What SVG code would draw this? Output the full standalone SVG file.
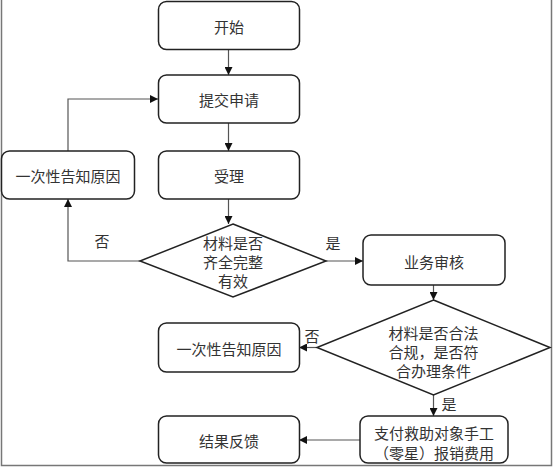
<svg xmlns="http://www.w3.org/2000/svg" width="553" height="467" viewBox="0 0 553 467">
<style>
.n{fill:#fff;stroke:#222;stroke-width:1.5}
.t{font-family:"Noto Sans CJK SC","Noto Sans",sans-serif;font-size:15px;fill:#333;text-anchor:middle;dominant-baseline:central}
.c{fill:none;stroke:#555;stroke-width:1.2}
</style>
<defs>
<marker id="a" viewBox="0 0 10 10" refX="10" refY="5" markerWidth="8" markerHeight="8" markerUnits="userSpaceOnUse" orient="auto">
<path d="M0,0L10,5L0,10z" fill="#111"/>
</marker>
</defs>
<rect x="0" y="0" width="553" height="467" fill="#fff"/>
<path d="M1.5,0V465.5H551.5V0" fill="none" stroke="#777" stroke-width="1.5"/>
<g id="connectors">
<path class="c" d="M228.5,49V75" marker-end="url(#a)"/>
<path class="c" d="M228.5,123V151" marker-end="url(#a)"/>
<path class="c" d="M228.5,199V224" marker-end="url(#a)"/>
<path class="c" d="M140,261H68V199" marker-end="url(#a)"/>
<path class="c" d="M68,151V99H158" marker-end="url(#a)"/>
<path class="c" d="M326,261H363" marker-end="url(#a)"/>
<path class="c" d="M433.5,285V300" marker-end="url(#a)"/>
<path class="c" d="M317,347.5H299" marker-end="url(#a)"/>
<path class="c" d="M433.5,395V416" marker-end="url(#a)"/>
<path class="c" d="M360,440H299" marker-end="url(#a)"/>
<text class="t" x="102" y="240">否</text>
<text class="t" x="333" y="242">是</text>
<text class="t" x="312" y="335">否</text>
<text class="t" x="449" y="403">是</text>
</g>
<g id="start"><rect class="n" x="158.5" y="1.5" width="141" height="48" rx="8"/><text class="t" x="229" y="26">开始</text></g>
<g id="submit"><rect class="n" x="158.5" y="75" width="141" height="48" rx="8"/><text class="t" x="229" y="99">提交申请</text></g>
<g id="accept"><rect class="n" x="158.5" y="151" width="141" height="48" rx="8"/><text class="t" x="229" y="175">受理</text></g>
<g id="notify1"><rect class="n" x="1.5" y="151" width="133" height="48" rx="8"/><text class="t" x="68" y="175">一次性告知原因</text></g>
<g id="check1"><polygon class="n" points="233,224 326,261 233,297 140,261"/>
<text class="t" x="233" y="242">材料是否</text><text class="t" x="233" y="261">齐全完整</text><text class="t" x="233" y="280">有效</text></g>
<g id="review"><rect class="n" x="363" y="235" width="142" height="50" rx="8"/><text class="t" x="434" y="261">业务审核</text></g>
<g id="check2"><polygon class="n" points="433.5,300 550,347.5 433.5,395 317,347.5"/>
<text class="t" x="433.5" y="332">材料是否合法</text><text class="t" x="433.5" y="351">合规，是否符</text><text class="t" x="433.5" y="370">合办理条件</text></g>
<g id="notify2"><rect class="n" x="158.5" y="323" width="141" height="49" rx="8"/><text class="t" x="229" y="348">一次性告知原因</text></g>
<g id="pay"><rect class="n" x="360" y="416" width="148" height="47" rx="8"/><text class="t" x="434" y="432">支付救助对象手工</text><text class="t" x="434" y="452">（零星）报销费用</text></g>
<g id="result"><rect class="n" x="158.5" y="416" width="141" height="47" rx="8"/><text class="t" x="229" y="440">结果反馈</text></g>
</svg>
